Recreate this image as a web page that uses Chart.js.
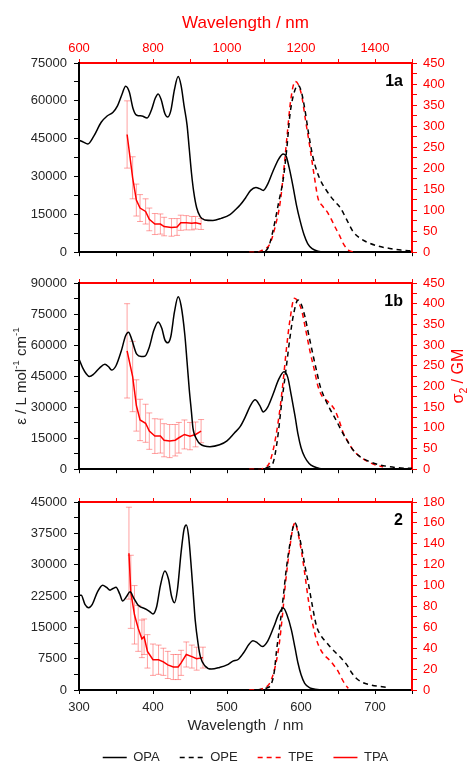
<!DOCTYPE html>
<html>
<head>
<meta charset="utf-8">
<script src="https://cdn.jsdelivr.net/npm/chart.js@4.4.1/dist/chart.umd.min.js"></script>
<style>
  html, body { margin: 0; padding: 0; background: #fff; overflow: hidden; }
  #wrap { position: relative; width: 467px; height: 762px; overflow: hidden; }
  canvas { position: absolute; left: 0; }
</style>
</head>
<body>
<div id="wrap">
  <canvas id="c1" width="467" height="267" style="top:0px"></canvas>
  <canvas id="c2" width="467" height="222" style="top:262px"></canvas>
  <canvas id="c3" width="467" height="290" style="top:484px"></canvas>
</div>
<script>
// ---- panel 1a ----
const opaWl1 = [300,305,312,320,330,338,346,352,358,363,368,373,378,385,392,398,403,407,411,416,420,424,429,434,438,442,446,449,452,455,459,464,470,481,492,504,512,518,525,532,539,544,549,555,562,570,576,580,584,589,594,599,604,609,615,623,635,650];
const opa1 = [44400,43800,42900,46000,51500,54000,55500,58000,62500,65800,63500,57000,54300,54000,53200,56500,61000,62700,60500,55000,53600,56000,64500,69600,66000,58000,50500,41000,31400,24000,17600,14000,12800,12600,13400,14900,17000,18800,21500,24500,25600,25200,24500,27000,32000,37000,38900,38000,33500,26400,18500,12200,7000,3400,1400,400,100,0];
const opeWl1 = [540,549,556,562,570,576,581,585,590,596,600,605,610,616,622,628,634,639,646,653,661,670,680,693,705,720,735,750];
const ope1 = [0,1,12,50,120,174,250,326,375,397,385,342,285,227,190,165,148,135,120,106,80,50,33,21,14,9,5,3];
const tpeWl1 = [530,540,549,558,565,572,577,581,586,592,596,601,606,612,618,623,629,635,641,646,652,657,664,670];
const tpe1 = [0,0,6,20,60,120,200,273,360,406,400,372,315,250,180,128,110,97,78,60,40,21,5,1];
const tpaWl1 = [730,745,755,765,780,790,805,820,830,850,865,875,890,905,915,930];
const tpa1 = [280,177,124,105,97,78,67,67,61,59,60,70,70,69,70,67];
const tpaErr1 = [80,50,38,32,30,27,25,24,22,21,20,18,17,16,15,13];

// ---- panel 1b ----
const opaWl2 = [300,305,310,314,320,328,335,340,344,350,357,363,367,371,378,384,389,395,401,407,412,416,420,424,429,434,438,443,446,449,452,454,459,464,477,490,500,510,518,525,532,538,544,549,555,562,570,577,582,587,592,596,600,605,611,617,625,640];
const opa2 = [53300,49000,46000,44800,46000,49000,50700,49500,47900,50000,57000,64500,66200,63000,55600,54500,54600,59000,67000,71200,68000,62500,61100,64000,76000,83300,79000,65000,52000,38600,27500,19900,14500,12100,10900,11800,13700,17500,20700,25500,31000,33600,31000,27700,30000,36000,43500,47100,44500,35400,25500,16800,10500,5900,2800,1300,400,0];
const opeWl2 = [540,549,556,562,568,574,580,585,590,596,600,605,611,617,622,626,632,639,647,655,663,671,680,693,705,720,735,750];
const ope2 = [0,2,5,14,70,162,245,317,375,409,400,371,320,270,230,200,172,146,120,92,67,45,30,18,11,6,3,2];
const tpeWl2 = [530,542,550,557,564,571,576,580,585,591,596,601,606,612,618,623,629,635,641,646,652,657,664,671,680,693,705,711];
const tpe2 = [0,0,3,14,60,138,215,286,360,413,405,383,340,286,240,200,175,166,155,142,115,88,65,45,30,16,8,6];
const tpaWl2 = [730,745,755,765,780,790,805,820,830,845,860,870,885,900,915,930];
const tpa2 = [286,224,154,119,111,92,80,80,70,68,70,76,84,80,84,92];
const tpaErr2 = [114,85,62,50,46,44,42,41,40,40,38,37,35,33,30,28];

// ---- panel 2 ----
const opaWl3 = [300,303,308,313,318,325,332,337,342,346,350,355,359,364,369,374,380,391,396,400,405,410,416,421,425,429,433,438,442,445,448,452,455,457,461,464,470,479,490,500,508,515,522,530,535,541,548,555,563,570,576,581,587,592,596,600,605,612,619,640];
const opa3 = [22700,22700,20500,19700,20500,23500,25100,24600,23900,24300,24600,23000,21300,22300,23500,22000,20300,19300,18700,18200,20000,25000,28500,26500,22500,20900,24000,33000,38500,39500,37000,28700,21500,16800,11000,8000,5800,5000,5400,6000,6900,7300,8800,11000,11800,11300,10400,11700,15000,18200,19600,18000,14400,10000,6400,3700,1600,500,200,0];
const opeWl3 = [540,547,554,560,564,567,572,576,580,585,589,592,596,601,605,610,615,621,627,635,641,648,655,662,668,675,684,693,705,716];
const ope3 = [0,0.7,2,6,18,38,65,89,115,140,155,160,152,136,120,102,82,61,52,45,40,35,30,24,17,11,7,5,3.5,2.6];
const tpeWl3 = [530,540,549,555,560,565,570,575,579,585,589,592,596,601,605,610,615,621,627,632,638,644,650,655,660,664];
const tpe3 = [0,0,1.6,4,10,22,41,72,102,137,155,160,150,131,112,86,66,48,38,33,29,24,18,11,5,1.6];
const tpaWl3 = [735,740,750,760,770,776,785,800,815,828,840,855,868,876,890,905,918,935];
const tpa3 = [131,94,72,59,49,51,37,29,29,27,24,22,22,26,34,32,30,31];
const tpaErr3 = [44,35,28,22,18,17,16,15,14,13,13,12,12,12,12,11,11,10];

const FONT = '"Liberation Sans", Arial, sans-serif';
const RED = '#ff0000';
const INK = '#262626';

function pts(xs, ys) {
  return xs.map((x, i) => ({x: x, y: ys[i]}));
}

// error bars for TPA, drawn under the lines
const errorBars = {
  id: 'errorBars',
  beforeDatasetsDraw(chart) {
    const ctx = chart.ctx;
    chart.data.datasets.forEach(ds => {
      if (!ds.errors) return;
      const xs = chart.scales[ds.xAxisID];
      const ys = chart.scales[ds.yAxisID];
      ctx.save();
      ctx.strokeStyle = 'rgba(255, 70, 70, 0.5)';
      ctx.lineWidth = 1;
      ds.data.forEach((p, i) => {
        const e = ds.errors[i];
        const px = xs.getPixelForValue(p.x);
        const top = ys.getPixelForValue(p.y + e);
        const bot = ys.getPixelForValue(p.y - e);
        ctx.beginPath();
        ctx.moveTo(px, top); ctx.lineTo(px, bot);
        ctx.moveTo(px - 3, top); ctx.lineTo(px + 3, top);
        ctx.moveTo(px - 3, bot); ctx.lineTo(px + 3, bot);
        ctx.stroke();
      });
      ctx.restore();
    });
  }
};

function richText(ctx, parts, cx, cy, rot, color, size) {
  ctx.save();
  ctx.translate(cx, cy);
  ctx.rotate(rot);
  ctx.fillStyle = color;
  ctx.textAlign = 'left';
  ctx.textBaseline = 'middle';
  let total = 0;
  parts.forEach(p => {
    ctx.font = (p.s ? size * 0.65 : size) + 'px ' + FONT;
    p.w = ctx.measureText(p.t).width;
    total += p.w;
  });
  let x = -total / 2;
  parts.forEach(p => {
    ctx.font = (p.s ? size * 0.65 : size) + 'px ' + FONT;
    const dy = p.s === 'sup' ? -size * 0.35 : (p.s === 'sub' ? size * 0.3 : 0);
    ctx.fillText(p.t, x, dy);
    x += p.w;
  });
  ctx.restore();
}

// panel tag and side titles
const decor = {
  id: 'decor',
  afterDraw(chart) {
    const o = chart.options.plugins.decor;
    const ctx = chart.ctx;
    const a = chart.chartArea;
    ctx.save();
    ctx.font = 'bold 16px ' + FONT;
    ctx.fillStyle = '#000';
    ctx.textAlign = 'right';
    ctx.textBaseline = 'middle';
    ctx.fillText(o.tag, a.right - 9, a.top + 19);
    ctx.restore();
    if (o.sideTitles) {
      const cy = (a.top + a.bottom) / 2;
      richText(ctx, [{t: 'ε / L mol'}, {t: '-1', s: 'sup'}, {t: ' cm'}, {t: '-1', s: 'sup'}], 22, cy, -Math.PI / 2, INK, 15);
      richText(ctx, [{t: 'σ'}, {t: '2', s: 'sub'}, {t: ' / GM'}], 459, cy, -Math.PI / 2, RED, 16);
    }
  }
};

// legend samples keep the dataset dash pattern
function legendLabels(chart) {
  const items = Chart.defaults.plugins.legend.labels.generateLabels(chart);
  items.forEach(it => {
    const ds = chart.data.datasets[it.datasetIndex];
    it.lineDash = ds.borderDash || [];
    it.lineWidth = 1.5;
    it.strokeStyle = ds.borderColor;
    it.pointStyle = 'line';
  });
  return items;
}

function makePanel(id, p) {
  const datasets = [
    {label: 'OPA', data: pts(p.opaWl, p.opa), xAxisID: 'x', yAxisID: 'y',
     borderColor: '#000', borderWidth: 1.5, cubicInterpolationMode: 'monotone'},
    {label: 'OPE', data: pts(p.opeWl, p.ope), xAxisID: 'x', yAxisID: 'y2',
     borderColor: '#000', borderWidth: 1.5, borderDash: [5, 4], cubicInterpolationMode: 'monotone'},
    {label: 'TPE', data: pts(p.tpeWl, p.tpe), xAxisID: 'x', yAxisID: 'y2',
     borderColor: RED, borderWidth: 1.5, borderDash: [5, 4], cubicInterpolationMode: 'monotone'},
    {label: 'TPA', data: pts(p.tpaWl, p.tpa), xAxisID: 'x2', yAxisID: 'y2',
     borderColor: RED, borderWidth: 1.5, tension: 0, errors: p.tpaErr}
  ];
  datasets.forEach(d => { d.pointRadius = 0; d.fill = false; d.backgroundColor = d.borderColor; });

  return new Chart(document.getElementById(id), {
    type: 'line',
    data: {datasets: datasets},
    options: {
      responsive: false,
      animation: false,
      events: [],
      layout: {padding: 0},
      plugins: {
        legend: {
          display: p.last, position: 'bottom', fullSize: false,
          labels: {usePointStyle: true, pointStyle: 'line', pointStyleWidth: 24, boxWidth: 24,
                   padding: 20, color: INK, font: {family: FONT, size: 13},
                   generateLabels: legendLabels}
        },
        tooltip: {enabled: false},
        decor: {tag: p.tag, sideTitles: p.mid}
      },
      scales: {
        x: {
          type: 'linear', position: 'bottom', min: 300, max: 750,
          afterFit: s => { s.height = p.xh; },
          border: {display: true, color: '#000', width: 2},
          grid: {drawOnChartArea: false, drawTicks: true, tickLength: 4, tickColor: '#000'},
          ticks: {display: p.last, stepSize: 50, autoSkip: false, maxRotation: 0, padding: 6,
                  color: INK, font: {family: FONT, size: 13},
                  callback: v => v % 100 === 0 ? String(v) : ''},
          title: {display: p.last, text: 'Wavelength  / nm', color: INK,
                  font: {family: FONT, size: 15, lineHeight: 1}, padding: {top: 0, bottom: -2.5}}
        },
        x2: {
          type: 'linear', position: 'top', min: 600, max: 1500,
          afterFit: s => { s.height = p.th; },
          border: {display: true, color: RED, width: 2},
          grid: {drawOnChartArea: false, drawTicks: true, tickLength: 4, tickColor: RED},
          ticks: {display: p.first, stepSize: 100, autoSkip: false, maxRotation: 0, padding: 3,
                  color: RED, font: {family: FONT, size: 13},
                  callback: v => v % 200 === 0 ? String(v) : ''},
          title: {display: p.first, text: 'Wavelength / nm', color: RED,
                  font: {family: FONT, size: 17}, padding: {top: 13, bottom: 0}}
        },
        y: {
          type: 'linear', position: 'left', min: 0, max: p.yMax,
          afterFit: s => { s.width = 79; },
          border: {display: true, color: '#000', width: 2},
          grid: {drawOnChartArea: false, drawTicks: true, tickLength: 5, tickColor: '#000'},
          ticks: {stepSize: p.yStep, autoSkip: false, padding: 7, color: INK,
                  font: {family: FONT, size: 13},
                  callback: v => v % p.yLab === 0 ? String(v) : ''}
        },
        y2: {
          type: 'linear', position: 'right', min: 0, max: p.rMax,
          afterFit: s => { s.width = 55; },
          border: {display: true, color: RED, width: 2},
          grid: {drawOnChartArea: false, drawTicks: true, tickLength: 5, tickColor: RED},
          ticks: {stepSize: p.rStep, autoSkip: false, padding: 6, color: RED,
                  font: {family: FONT, size: 13},
                  callback: v => v % p.rLab === 0 ? String(v) : ''}
        }
      }
    },
    plugins: [errorBars, decor]
  });
}

makePanel('c1', {
  opaWl: opaWl1, opa: opa1, opeWl: opeWl1, ope: ope1, tpeWl: tpeWl1, tpe: tpe1,
  tpaWl: tpaWl1, tpa: tpa1, tpaErr: tpaErr1,
  yMax: 75000, yStep: 7500, yLab: 15000, rMax: 450, rStep: 25, rLab: 50,
  tag: '1a', first: true, mid: false, last: false, th: 63, xh: 8
});
makePanel('c2', {
  opaWl: opaWl2, opa: opa2, opeWl: opeWl2, ope: ope2, tpeWl: tpeWl2, tpe: tpe2,
  tpaWl: tpaWl2, tpa: tpa2, tpaErr: tpaErr2,
  yMax: 90000, yStep: 7500, yLab: 15000, rMax: 450, rStep: 25, rLab: 50,
  tag: '1b', first: false, mid: true, last: false, th: 21, xh: 8
});
makePanel('c3', {
  opaWl: opaWl3, opa: opa3, opeWl: opeWl3, ope: ope3, tpeWl: tpeWl3, tpe: tpe3,
  tpaWl: tpaWl3, tpa: tpa3, tpaErr: tpaErr3,
  yMax: 45000, yStep: 3750, yLab: 7500, rMax: 180, rStep: 10, rLab: 20,
  tag: '2', first: false, mid: false, last: true, th: 18, xh: 41
});
</script>
</body>
</html>
